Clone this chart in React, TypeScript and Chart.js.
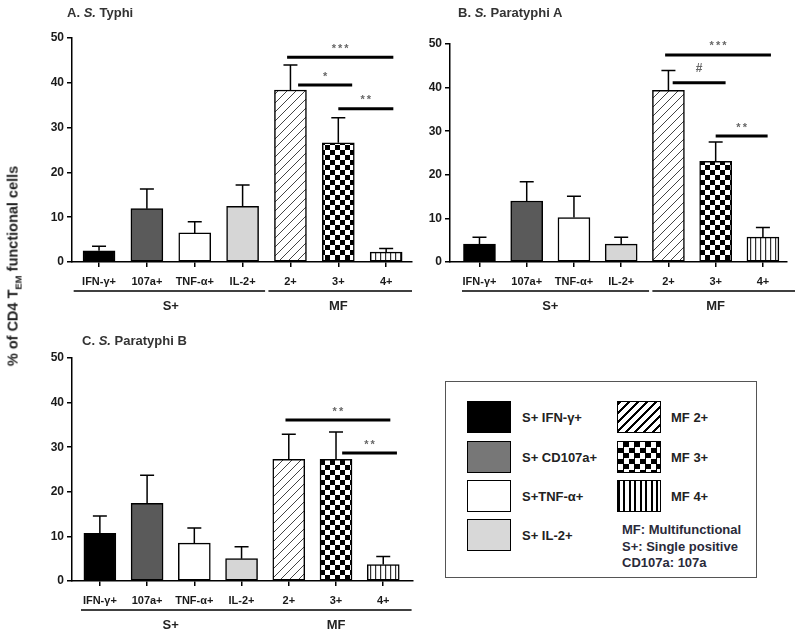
import React, { useEffect, useRef } from "react";
import { Chart, registerables } from "chart.js";

Chart.register(...registerables);

const FONT = '"Liberation Sans", Arial, Helvetica, sans-serif';

// ---------- DATA ----------
const categories = ["IFN-γ+", "107a+", "TNF-α+", "IL-2+", "2+", "3+", "4+"];
const groupLabels = ["S+", "MF"];
const groupRanges = [
  [0, 3],
  [4, 6],
];
const yTicks = [0, 10, 20, 30, 40, 50];

// Panel A. S. Typhi
const typhiMeans = [2.5, 11.9, 6.5, 12.4, 38.4, 26.6, 2.2];
const typhiSem = [1.0, 4.4, 2.5, 4.8, 5.6, 5.6, 0.8];
const typhiSigFrom = [3.93, 4.16, 5.0];
const typhiSigTo = [6.15, 5.29, 6.15];
const typhiSigLevel = [45.7, 39.5, 34.2];
const typhiSigLabels = ["***", "*", "**"];
const typhiGroupSpans = [
  [-0.53, 3.47],
  [3.54, 6.54],
];

// Panel B. S. Paratyphi A
const paraAMeans = [4.1, 14.0, 10.2, 4.1, 39.4, 23.1, 5.7];
const paraASem = [1.6, 4.4, 4.9, 1.6, 4.5, 4.4, 2.2];
const paraASigFrom = [3.93, 4.09, 5.0];
const paraASigTo = [6.17, 5.21, 6.1];
const paraASigLevel = [47.5, 41.1, 28.9];
const paraASigLabels = ["***", "#", "**"];
const paraAGroupSpans = [
  [-0.37, 3.59],
  [3.66, 6.68],
];

// Panel C. S. Paratyphi B
const paraBMeans = [10.7, 17.4, 8.5, 5.0, 27.3, 27.3, 3.7];
const paraBSem = [3.9, 6.3, 3.4, 2.7, 5.6, 6.1, 1.8];
const paraBSigFrom = [3.93, 5.13];
const paraBSigTo = [6.15, 6.29];
const paraBSigLevel = [36.1, 28.7];
const paraBSigLabels = ["**", "**"];
const paraBGroupSpans = [[-0.4, 6.6]];

// legend
const legendLeftLabels = ["S+ IFN-γ+", "S+ CD107a+", "S+TNF-α+", "S+ IL-2+"];
const legendRightLabels = ["MF 2+", "MF 3+", "MF 4+"];
const legendNotes = ["MF: Multifunctional", "S+: Single positive", "CD107a: 107a"];

// ---------- PATTERNS ----------
function makeCanvas(size: number) {
  const c = document.createElement("canvas");
  c.width = size;
  c.height = size;
  const ctx = c.getContext("2d")!;
  ctx.fillStyle = "#fff";
  ctx.fillRect(0, 0, size, size);
  return { c, ctx };
}

function diagPattern(ctx0: CanvasRenderingContext2D) {
  const s = 9;
  const { c, ctx } = makeCanvas(s);
  ctx.strokeStyle = "#444";
  ctx.lineWidth = 1;
  ctx.beginPath();
  ctx.moveTo(0, s);
  ctx.lineTo(s, 0);
  ctx.moveTo(-2, 2);
  ctx.lineTo(2, -2);
  ctx.moveTo(s - 2, s + 2);
  ctx.lineTo(s + 2, s - 2);
  ctx.stroke();
  return ctx0.createPattern(c, "repeat")!;
}

function checkerPattern(ctx0: CanvasRenderingContext2D) {
  const s = 10;
  const { c, ctx } = makeCanvas(s);
  ctx.fillStyle = "#000";
  ctx.fillRect(0, 0, 5, 5);
  ctx.fillRect(5, 5, 5, 5);
  return ctx0.createPattern(c, "repeat")!;
}

function stripePattern(ctx0: CanvasRenderingContext2D) {
  const s = 5;
  const { c, ctx } = makeCanvas(s);
  ctx.fillStyle = "#333";
  ctx.fillRect(0, 0, 1.2, s);
  return ctx0.createPattern(c, "repeat")!;
}

// ---------- PANELS ----------
type PanelCfg = {
  means: number[];
  sem: number[];
  sigFrom: number[];
  sigTo: number[];
  sigLevel: number[];
  sigLabels: string[];
  groupSpans: number[][];
  left: number;
  top: number;
  width: number;
  height: number;
  plotLeft: number;
  plotRight: number;
  plotTop: number;
  plotBottom: number;
  xMin: number;
  xMax: number;
};

const panels: PanelCfg[] = [
  {
    means: typhiMeans,
    sem: typhiSem,
    sigFrom: typhiSigFrom,
    sigTo: typhiSigTo,
    sigLevel: typhiSigLevel,
    sigLabels: typhiSigLabels,
    groupSpans: typhiGroupSpans,
    left: 0,
    top: 0,
    width: 420,
    height: 320,
    plotLeft: 72,
    plotRight: 412,
    plotTop: 38,
    plotBottom: 262,
    xMin: -0.565,
    xMax: 6.54,
  },
  {
    means: paraAMeans,
    sem: paraASem,
    sigFrom: paraASigFrom,
    sigTo: paraASigTo,
    sigLevel: paraASigLevel,
    sigLabels: paraASigLabels,
    groupSpans: paraAGroupSpans,
    left: 400,
    top: 0,
    width: 400,
    height: 320,
    plotLeft: 50,
    plotRight: 387,
    plotTop: 44,
    plotBottom: 262,
    xMin: -0.624,
    xMax: 6.51,
  },
  {
    means: paraBMeans,
    sem: paraBSem,
    sigFrom: paraBSigFrom,
    sigTo: paraBSigTo,
    sigLevel: paraBSigLevel,
    sigLabels: paraBSigLabels,
    groupSpans: paraBGroupSpans,
    left: 0,
    top: 320,
    width: 420,
    height: 319,
    plotLeft: 72,
    plotRight: 413,
    plotTop: 38,
    plotBottom: 261,
    xMin: -0.59,
    xMax: 6.63,
  },
];

function Panel({ cfg }: { cfg: PanelCfg }) {
  const ref = useRef<HTMLCanvasElement>(null);
  useEffect(() => {
    const canvas = ref.current!;
    const ctx0 = canvas.getContext("2d")!;
    const fills: (string | CanvasPattern)[] = [
      "#000000",
      "#5a5a5a",
      "#ffffff",
      "#d6d6d6",
      diagPattern(ctx0),
      checkerPattern(ctx0),
      stripePattern(ctx0),
    ];

    const extras = {
      id: "extras",
      afterDatasetsDraw(chart: any) {
        const ctx = chart.ctx as CanvasRenderingContext2D;
        const xs = chart.scales.x;
        const ys = chart.scales.y;
        const meta = chart.getDatasetMeta(0);
        ctx.save();
        // error bars
        ctx.strokeStyle = "#000";
        ctx.lineWidth = 1.5;
        meta.data.forEach((bar: any, i: number) => {
          const x = bar.x;
          const yTop = ys.getPixelForValue(cfg.means[i]);
          const yErr = ys.getPixelForValue(cfg.means[i] + cfg.sem[i]);
          ctx.beginPath();
          ctx.moveTo(x, yTop);
          ctx.lineTo(x, yErr);
          ctx.moveTo(x - 7, yErr);
          ctx.lineTo(x + 7, yErr);
          ctx.stroke();
        });
        // significance bars
        cfg.sigLabels.forEach((lab, k) => {
          const x1 = xs.getPixelForValue(cfg.sigFrom[k]);
          const x2 = xs.getPixelForValue(cfg.sigTo[k]);
          const y = ys.getPixelForValue(cfg.sigLevel[k]);
          ctx.strokeStyle = "#000";
          ctx.lineWidth = 3;
          ctx.beginPath();
          ctx.moveTo(x1, y);
          ctx.lineTo(x2, y);
          ctx.stroke();
          ctx.fillStyle = "#666";
          ctx.textAlign = "center";
          ctx.textBaseline = "bottom";
          if (lab === "#") {
            ctx.font = `bold 12px ${FONT}`;
            ctx.fillText(lab, (x1 + x2) / 2, y - 8);
          } else {
            ctx.font = `bold 11px ${FONT}`;
            (ctx as any).letterSpacing = "2px";
            ctx.fillText(lab, (x1 + x2) / 2 + 1, y - 3);
            (ctx as any).letterSpacing = "0px";
          }
        });
        // group brackets
        const base = chart.chartArea.bottom;
        ctx.strokeStyle = "#000";
        ctx.lineWidth = 1.3;
        cfg.groupSpans.forEach((g) => {
          const x1 = xs.getPixelForValue(g[0]);
          const x2 = xs.getPixelForValue(g[1]);
          ctx.beginPath();
          ctx.moveTo(x1, base + 29);
          ctx.lineTo(x2, base + 29);
          ctx.stroke();
        });
        ctx.fillStyle = "#222";
        ctx.font = `bold 13px ${FONT}`;
        ctx.textAlign = "center";
        ctx.textBaseline = "middle";
        groupLabels.forEach((lab, k) => {
          const mid = (groupRanges[k][0] + groupRanges[k][1]) / 2;
          ctx.fillText(lab, xs.getPixelForValue(mid), base + 44);
        });
        ctx.restore();
      },
    };

    const chart = new Chart(canvas, {
      type: "bar",
      data: {
        datasets: [
          {
            data: cfg.means.map((v, i) => ({ x: i, y: v })),
            backgroundColor: fills as any,
            borderColor: "#000",
            borderWidth: 1.5,
            borderSkipped: false,
            barThickness: 32,
          },
        ],
      },
      options: {
        responsive: false,
        animation: false,
        events: [],
        layout: {
          padding: {
            left: 0,
            right: cfg.width - cfg.plotRight,
            top: cfg.plotTop,
            bottom: 0,
          },
        },
        plugins: {
          legend: { display: false },
          tooltip: { enabled: false },
          title: { display: false },
        },
        scales: {
          x: {
            type: "linear",
            offset: false,
            min: cfg.xMin,
            max: cfg.xMax,
            afterFit: (s: any) => {
              s.height = cfg.height - cfg.plotBottom;
            },
            afterBuildTicks: (s: any) => {
              s.ticks = categories.map((_, i) => ({ value: i }));
            },
            ticks: {
              autoSkip: false,
              maxRotation: 0,
              minRotation: 0,
              padding: 8,
              color: "#1a1a1a",
              font: { family: FONT, size: 11, weight: "bold" },
              callback: (v: any) => categories[Math.round(Number(v))] ?? "",
            },
            grid: {
              display: true,
              offset: false,
              drawOnChartArea: false,
              drawTicks: true,
              tickLength: 5,
              color: "#000",
              lineWidth: 1.5,
            },
            border: { display: true, color: "#000", width: 1.5 },
          },
          y: {
            min: 0,
            max: 50,
            afterFit: (s: any) => {
              s.width = cfg.plotLeft;
            },
            afterBuildTicks: (s: any) => {
              s.ticks = yTicks.map((v) => ({ value: v }));
            },
            ticks: {
              padding: 3,
              color: "#1a1a1a",
              font: { family: FONT, size: 12, weight: "bold" },
            },
            grid: {
              display: true,
              drawOnChartArea: false,
              drawTicks: true,
              tickLength: 5,
              color: "#000",
              lineWidth: 1.5,
            },
            border: { display: true, color: "#000", width: 1.5 },
          },
        },
      } as any,
      plugins: [extras],
    });
    return () => chart.destroy();
  }, [cfg]);
  return (
    <canvas
      ref={ref}
      width={cfg.width}
      height={cfg.height}
      style={{
        position: "absolute",
        left: cfg.left,
        top: cfg.top,
        width: cfg.width,
        height: cfg.height,
      }}
    />
  );
}

const titleStyle: React.CSSProperties = {
  position: "absolute",
  font: `bold 13px ${FONT}`,
  color: "#333",
  whiteSpace: "nowrap",
  lineHeight: "16px",
};

const swatchBase: React.CSSProperties = {
  position: "absolute",
  width: 44,
  height: 32,
  boxSizing: "border-box",
  border: "1.5px solid #000",
};

const leftSwatchBg = ["#000", "#777", "#fff", "#d8d8d8"];
const rightSwatchBg = [
  "repeating-linear-gradient(135deg, #000 0 2.5px, #fff 2.5px 6.4px)",
  "conic-gradient(#000 0 25%, #fff 0 50%, #000 0 75%, #fff 0) 0 0 / 11px 11px",
  "repeating-linear-gradient(90deg, #000 0 2px, #fff 2px 5.5px)",
];
const rowTops = [401, 441, 480, 519];

const labelStyle: React.CSSProperties = {
  position: "absolute",
  font: `bold 13px ${FONT}`,
  color: "#222",
  whiteSpace: "nowrap",
  lineHeight: "16px",
};

export default function App() {
  return (
    <div
      style={{
        position: "absolute",
        left: 0,
        top: 0,
        width: 800,
        height: 639,
        background: "#fff",
        overflow: "hidden",
        fontFamily: FONT,
      }}
    >
      {panels.map((p, i) => (
        <Panel key={i} cfg={p} />
      ))}
      <div style={{ ...titleStyle, left: 67, top: 5 }}>
        A. <i>S.</i> Typhi
      </div>
      <div style={{ ...titleStyle, left: 458, top: 5 }}>
        B. <i>S.</i> Paratyphi A
      </div>
      <div style={{ ...titleStyle, left: 82, top: 333 }}>
        C. <i>S.</i> Paratyphi B
      </div>
      <div
        style={{
          position: "absolute",
          left: 14,
          top: 266,
          transform: "translate(-50%, -50%) rotate(-90deg)",
          font: `bold 14.5px ${FONT}`,
          color: "#222",
          whiteSpace: "nowrap",
        }}
      >
        % of CD4 T<sub style={{ fontSize: "9.5px" }}>EM</sub> functional cells
      </div>
      {/* legend box */}
      <div
        style={{
          position: "absolute",
          left: 445,
          top: 381,
          width: 312,
          height: 197,
          boxSizing: "border-box",
          border: "1.5px solid #555",
        }}
      />
      {legendLeftLabels.map((lab, i) => (
        <React.Fragment key={"l" + i}>
          <div style={{ ...swatchBase, left: 467, top: rowTops[i], background: leftSwatchBg[i] }} />
          <div style={{ ...labelStyle, left: 522, top: rowTops[i] + 9 }}>{lab}</div>
        </React.Fragment>
      ))}
      {legendRightLabels.map((lab, i) => (
        <React.Fragment key={"r" + i}>
          <div style={{ ...swatchBase, left: 617, top: rowTops[i], background: rightSwatchBg[i] }} />
          <div style={{ ...labelStyle, left: 671, top: rowTops[i] + 9 }}>{lab}</div>
        </React.Fragment>
      ))}
      {legendNotes.map((lab, i) => (
        <div key={"n" + i} style={{ ...labelStyle, left: 622, top: 522 + i * 16.5, color: "#2a2a3a" }}>
          {lab}
        </div>
      ))}
    </div>
  );
}
